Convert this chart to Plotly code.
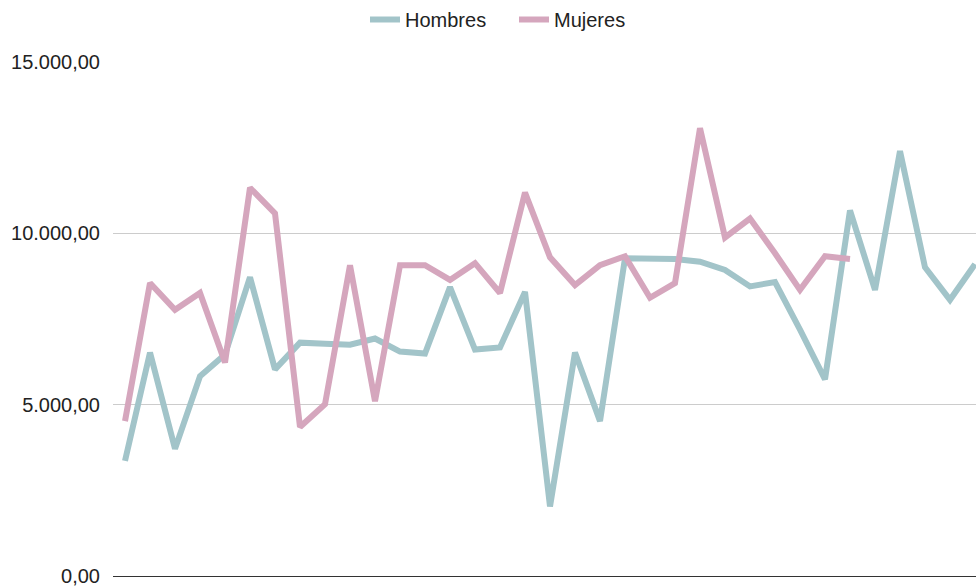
import plotly.graph_objects as go

categories = list(range(1, 36))

hombres = [3360, 6520, 3710, 5830, 6460, 8720, 6030, 6810, 6780, 6750,
           6930, 6550, 6490, 8430, 6610, 6670, 8290, 2030, 6520, 4520,
           9270, 9270, 9250, 9170, 8930, 8450, 8580, 7190, 5740, 10670,
           8350, 12400, 9010, 8060, 9100]

mujeres = [4520, 8550, 7770, 8260, 6230, 11330, 10580, 4350, 5010, 9070,
           5100, 9070, 9070, 8640, 9130, 8260, 11190, 9300, 8490, 9070,
           9330, 8120, 8550, 13070, 9880, 10430, 9420, 8350, 9330, 9250]

y_ticks = [0, 5000, 10000, 15000]
y_tick_labels = ["0,00", "5.000,00", "10.000,00", "15.000,00"]

fig = go.Figure()
fig.add_trace(go.Scatter(x=categories, y=hombres, mode="lines", name="Hombres",
                         line=dict(color="#a2c4c9", width=6)))
fig.add_trace(go.Scatter(x=categories[:len(mujeres)], y=mujeres, mode="lines", name="Mujeres",
                         line=dict(color="#d5a6bd", width=6)))

fig.update_layout(
    width=976, height=587,
    margin=dict(l=113, r=0, t=62, b=9),
    paper_bgcolor="white", plot_bgcolor="white",
    font=dict(family="Liberation Sans, Arial, sans-serif", size=20, color="#222222"),
    showlegend=True,
    legend=dict(orientation="h", xref="container", yref="container",
                x=0.374, xanchor="left", y=1.0, yanchor="top",
                font=dict(size=20, color="#222222"), itemwidth=30,
                entrywidth=104, entrywidthmode="pixels",
                bgcolor="rgba(0,0,0,0)"),
    xaxis=dict(range=[0.52, 35.04], showticklabels=False, showgrid=False,
               zeroline=False, showline=False, ticks=""),
    yaxis=dict(range=[0, 15000], tickvals=y_ticks, ticktext=y_tick_labels,
               showgrid=True, gridcolor="#cccccc", gridwidth=1,
               zeroline=True, zerolinecolor="#333333", zerolinewidth=1,
               showline=False, ticks="", ticklabelstandoff=12,
               ticklabeloverflow="allow",
               tickfont=dict(size=20, color="#222222")),
)

fig.write_html("out.html")
